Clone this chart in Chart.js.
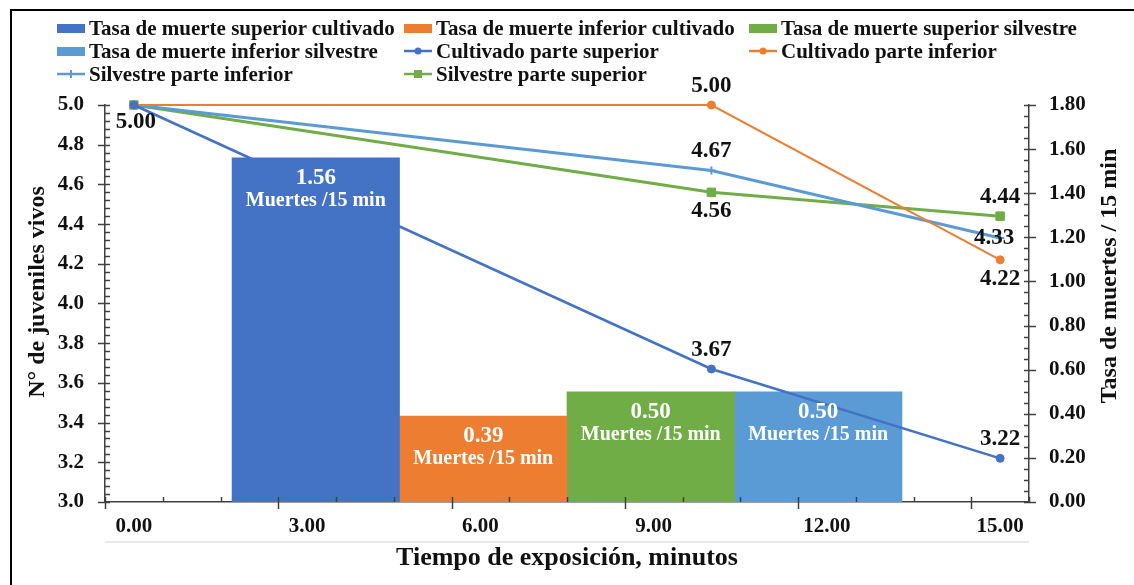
<!DOCTYPE html>
<html>
<head>
<meta charset="utf-8">
<script src="https://cdn.jsdelivr.net/npm/chart.js@4/dist/chart.umd.min.js"></script>
<style>
  html, body { margin: 0; padding: 0; background: #fff; }
  #wrap { position: relative; width: 1134px; height: 585px; }
  #legend { position: absolute; left: 0; top: 0; width: 1134px; height: 95px;
    font: bold 21px "Liberation Serif", "Times New Roman", serif; color: #111; }
  .item { position: absolute; display: flex; align-items: center; white-space: nowrap; height: 22px; }
  .item svg { margin-right: 4px; }
</style>
</head>
<body>
<div id="wrap">
  <canvas id="chart" width="1134" height="585"></canvas>
  <div id="legend"></div>
</div>
<script>
// --- data ---
const xTicks = [0, 3, 6, 9, 12, 15];
const timePoints = [0, 10, 15];
const cultivadoSuperior = [5.00, 3.67, 3.22];
const cultivadoInferior = [5.00, 5.00, 4.22];
const silvestreInferior = [5.00, 4.67, 4.33];
const silvestreSuperior = [5.00, 4.56, 4.44];

const barLabels = [
  "Tasa de muerte superior cultivado",
  "Tasa de muerte inferior cultivado",
  "Tasa de muerte superior silvestre",
  "Tasa de muerte inferior silvestre"
];
const barX = [3.15, 6.05, 8.95, 11.85];
const barRates = [1.56, 0.39, 0.50, 0.50];
const barColors = ["#4472C4", "#ED7D31", "#70AD47", "#5B9BD5"];

const FONT = '"Liberation Serif", "Times New Roman", serif';

function pts(ys) {
  return ys.map((y, i) => ({ x: timePoints[i], y: y }));
}

const barSets = barLabels.map((lab, i) => ({
  type: "bar",
  label: lab,
  data: [{ x: barX[i], y: barRates[i] }],
  backgroundColor: barColors[i],
  yAxisID: "y1",
  grouped: false,
  barPercentage: 1,
  categoryPercentage: 1,
  order: 2
}));

function lineSet(label, ys, color, width, style, radius, labelPos) {
  return {
    type: "line",
    label: label,
    data: pts(ys),
    borderColor: color,
    backgroundColor: color,
    borderWidth: width,
    pointStyle: style,
    pointRadius: radius,
    pointBorderColor: color,
    pointBackgroundColor: color,
    pointBorderWidth: style === "cross" ? 2 : 1,
    yAxisID: "y",
    tension: 0,
    clip: false,
    order: 1,
    labelPos: labelPos
  };
}

const lineSets = [
  lineSet("Cultivado parte superior", cultivadoSuperior, "#4472C4", 2.5, "circle", 4, ["bl", "above", "above"]),
  lineSet("Cultivado parte inferior", cultivadoInferior, "#ED7D31", 2, "circle", 4, [null, "above", "below"]),
  lineSet("Silvestre parte inferior", silvestreInferior, "#5B9BD5", 3, "cross", 4, [null, "above", "center"]),
  lineSet("Silvestre parte superior", silvestreSuperior, "#70AD47", 3, "rect", 6, [null, "below", "above"])
];

// tick marks (major crossing, minor inside) + frame + rotated y titles + labels
const decorPlugin = {
  id: "decor",
  beforeDraw(chart) {
    const ctx = chart.ctx;
    ctx.save();
    ctx.fillStyle = "#fff";
    ctx.fillRect(0, 0, chart.width, chart.height);
    ctx.strokeStyle = "#000";
    ctx.lineWidth = 2;
    ctx.beginPath();
    ctx.moveTo(11, chart.height);
    ctx.lineTo(11, 10);
    ctx.lineTo(chart.width, 10);
    ctx.stroke();
    // faint line under x tick labels
    const a = chart.chartArea;
    ctx.strokeStyle = "#e2e2e2";
    ctx.lineWidth = 1.5;
    ctx.beginPath();
    ctx.moveTo(a.left, 542);
    ctx.lineTo(a.right, 542);
    ctx.stroke();
    ctx.restore();
  },
  afterDatasetsDraw(chart) {
    const ctx = chart.ctx;
    const { x, y, y1 } = chart.scales;
    const a = chart.chartArea;
    ctx.save();
    ctx.strokeStyle = "#404040";
    ctx.lineWidth = 1.5;
    ctx.beginPath();
    // left axis
    for (let v = 3; v <= 5.0001; v += 0.04) {
      const p = Math.round(y.getPixelForValue(v)) + 0.5;
      const major = Math.abs(v * 5 - Math.round(v * 5)) < 1e-6;
      ctx.moveTo(a.left - (major ? 7 : 0), p);
      ctx.lineTo(a.left + 5, p);
    }
    // right axis
    for (let v = 0; v <= 1.8001; v += 0.05) {
      const p = Math.round(y1.getPixelForValue(v)) + 0.5;
      const major = Math.abs(v * 5 - Math.round(v * 5)) < 1e-6;
      ctx.moveTo(a.right - 5, p);
      ctx.lineTo(a.right + (major ? 7 : 0), p);
    }
    // x axis: marks sit half a unit left of the labels
    for (let v = -0.5; v <= 15.5; v += 1) {
      const p = Math.round(x.getPixelForValue(v)) + 0.5;
      const major = Math.round(v + 0.5) % 3 === 0;
      ctx.moveTo(p, a.bottom - 5);
      ctx.lineTo(p, a.bottom + (major ? 7 : 0));
    }
    ctx.stroke();

    // bar labels
    ctx.fillStyle = "#fff";
    ctx.textAlign = "center";
    ctx.textBaseline = "middle";
    chart.data.datasets.forEach((ds, i) => {
      if (ds.type !== "bar") return;
      const el = chart.getDatasetMeta(i).data[0];
      ctx.font = "bold 23px " + FONT;
      ctx.fillText(ds.data[0].y.toFixed(2), el.x, el.y + 20);
      ctx.font = "bold 20px " + FONT;
      ctx.fillText("Muertes /15 min", el.x, el.y + 43);
    });

    // line point labels
    ctx.fillStyle = "#111";
    ctx.font = "bold 23px " + FONT;
    chart.data.datasets.forEach((ds, i) => {
      if (ds.type !== "line") return;
      chart.getDatasetMeta(i).data.forEach((el, j) => {
        const pos = ds.labelPos[j];
        if (!pos) return;
        let dx = 0, dy = 0;
        if (pos === "above") dy = -19;
        if (pos === "below") dy = 19;
        if (pos === "bl") { dx = 2; dy = 17; }
        if (pos === "center") dx = -6;
        ctx.fillText(ds.data[j].y.toFixed(2), el.x + dx, el.y + dy);
      });
    });

    // rotated axis titles (both read bottom to top)
    ctx.font = "bold 24px " + FONT;
    ctx.translate(38, 292);
    ctx.rotate(-Math.PI / 2);
    ctx.fillText("N° de juveniles vivos", 0, 0);
    ctx.setTransform(1, 0, 0, 1, 0, 0);
    ctx.translate(1110, 276);
    ctx.rotate(-Math.PI / 2);
    ctx.fillText("Tasa de muertes / 15 min", 0, 0);
    ctx.restore();
  }
};

const tickFont = { family: FONT, size: 21, weight: "bold" };

const chart = new Chart(document.getElementById("chart"), {
  type: "bar",
  data: { datasets: [...barSets, ...lineSets] },
  options: {
    responsive: false,
    animation: false,
    layout: { padding: { top: 105, left: 0, right: 0, bottom: 0 } },
    plugins: { legend: { display: false }, tooltip: { enabled: false } },
    scales: {
      x: {
        type: "linear",
        offset: false,
        min: -0.5,
        max: 15.5,
        afterBuildTicks: s => { s.ticks = xTicks.map(v => ({ value: v })); },
        afterFit: s => { s.height = 83; },
        grid: { display: false, drawTicks: false, offset: false },
        border: { color: "#404040", width: 1.5 },
        ticks: { color: "#111", font: tickFont, padding: 12, maxRotation: 0,
          callback: v => Number(v).toFixed(2) },
        title: { display: true, text: "Tiempo de exposición, minutos", color: "#111",
          font: { family: FONT, size: 26, weight: "bold" }, padding: { top: 0, bottom: 11 } }
      },
      y: {
        position: "left",
        min: 3, max: 5,
        afterFit: s => { s.width = 105; },
        grid: { display: false, drawTicks: false },
        border: { color: "#404040", width: 1.5 },
        ticks: { stepSize: 0.2, color: "#111", font: tickFont, padding: 21,
          callback: v => Number(v).toFixed(1) }
      },
      y1: {
        position: "right",
        min: 0, max: 1.8,
        afterFit: s => { s.width = 105; },
        grid: { display: false, drawTicks: false },
        border: { color: "#404040", width: 1.5 },
        ticks: { stepSize: 0.2, color: "#111", font: tickFont, padding: 20,
          callback: v => Number(v).toFixed(2) }
      }
    }
  },
  plugins: [decorPlugin]
});

// legend laid out in three fixed columns like the original
const legendCols = [57, 404, 749];
const legendRows = [28, 51, 74];
const legend = document.getElementById("legend");
chart.data.datasets.forEach((ds, i) => {
  const item = document.createElement("div");
  item.className = "item";
  item.style.left = legendCols[i % 3] + "px";
  item.style.top = (legendRows[Math.floor(i / 3)] - 11) + "px";
  const c = ds.borderColor || ds.backgroundColor;
  let svg;
  if (ds.type === "bar") {
    svg = '<svg width="28" height="10"><rect x="0" y="1" width="28" height="9" fill="' + ds.backgroundColor + '"/></svg>';
  } else {
    let mk = '<circle cx="14" cy="6" r="3.5" fill="' + c + '"/>';
    if (ds.pointStyle === "rect") mk = '<rect x="10" y="2" width="8" height="8" fill="' + c + '"/>';
    if (ds.pointStyle === "cross") mk = '<path d="M14 2V10M10 6H18" stroke="' + c + '" stroke-width="2"/>';
    svg = '<svg width="28" height="12"><line x1="0" y1="6" x2="28" y2="6" stroke="' + c + '" stroke-width="2.5"/>' + mk + '</svg>';
  }
  item.innerHTML = svg + '<span>' + ds.label + '</span>';
  legend.appendChild(item);
});
</script>
</body>
</html>
